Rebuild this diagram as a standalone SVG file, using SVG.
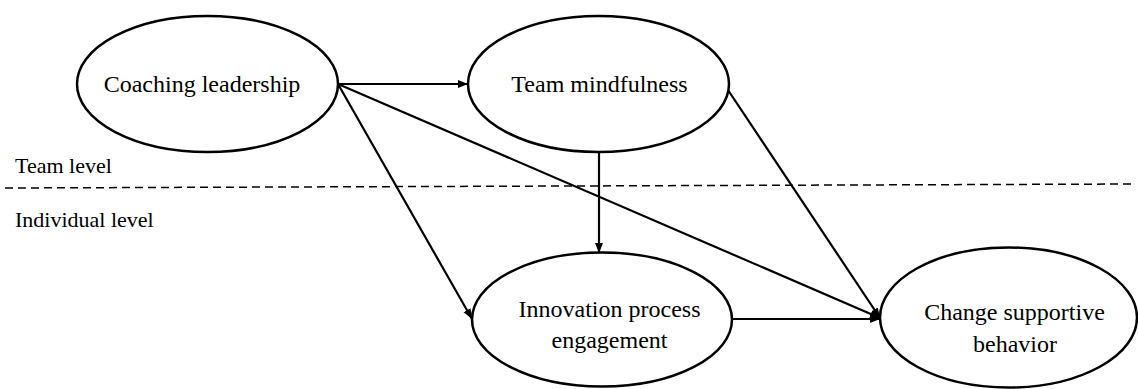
<svg xmlns="http://www.w3.org/2000/svg" width="1138" height="389" viewBox="0 0 1138 389">
<style>
.node ellipse{fill:#fff;stroke:#000;stroke-width:2.5}
.node text{font-family:"Liberation Serif","Times New Roman",serif;font-size:24px;fill:#000;text-anchor:middle}
.lvl{font-family:"Liberation Serif","Times New Roman",serif;font-size:22px;fill:#000}
.edge{stroke:#000;stroke-width:2.2;fill:none;marker-end:url(#ah)}
</style>
<defs>
<marker id="ah" markerUnits="userSpaceOnUse" markerWidth="12" markerHeight="10" refX="10" refY="4" orient="auto">
<path d="M0,0 L10,4 L0,8 z" fill="#000"/>
</marker>
</defs>
<rect width="1138" height="389" fill="#fff"/>
<line x1="5" y1="188" x2="1133" y2="184" stroke="#000" stroke-width="1.5" stroke-dasharray="8,5"/>
<text class="lvl" x="15" y="173">Team level</text>
<text class="lvl" x="15" y="227">Individual level</text>
<g id="connectors">
<line class="edge" x1="338" y1="84" x2="468" y2="84"/>
<line class="edge" x1="338" y1="84" x2="472" y2="319"/>
<line class="edge" x1="338" y1="84" x2="880" y2="318"/>
<line class="edge" x1="599" y1="152" x2="599" y2="253"/>
<line class="edge" x1="728" y1="90" x2="880" y2="318"/>
<line class="edge" x1="732" y1="319" x2="880" y2="319"/>
</g>
<g id="coaching" class="node">
<ellipse cx="207.5" cy="84" rx="130.5" ry="68"/>
<text x="202" y="92">Coaching leadership</text>
</g>
<g id="mindfulness" class="node">
<ellipse cx="598.5" cy="84" rx="130.5" ry="68"/>
<text x="599.5" y="92">Team mindfulness</text>
</g>
<g id="innovation" class="node">
<ellipse cx="602" cy="319.5" rx="130" ry="67"/>
<text x="609.5" y="317">Innovation process</text>
<text x="609.5" y="348">engagement</text>
</g>
<g id="change" class="node">
<ellipse cx="1008.5" cy="317.5" rx="128.5" ry="70"/>
<text x="1014.5" y="320">Change supportive</text>
<text x="1015" y="352">behavior</text>
</g>
</svg>
